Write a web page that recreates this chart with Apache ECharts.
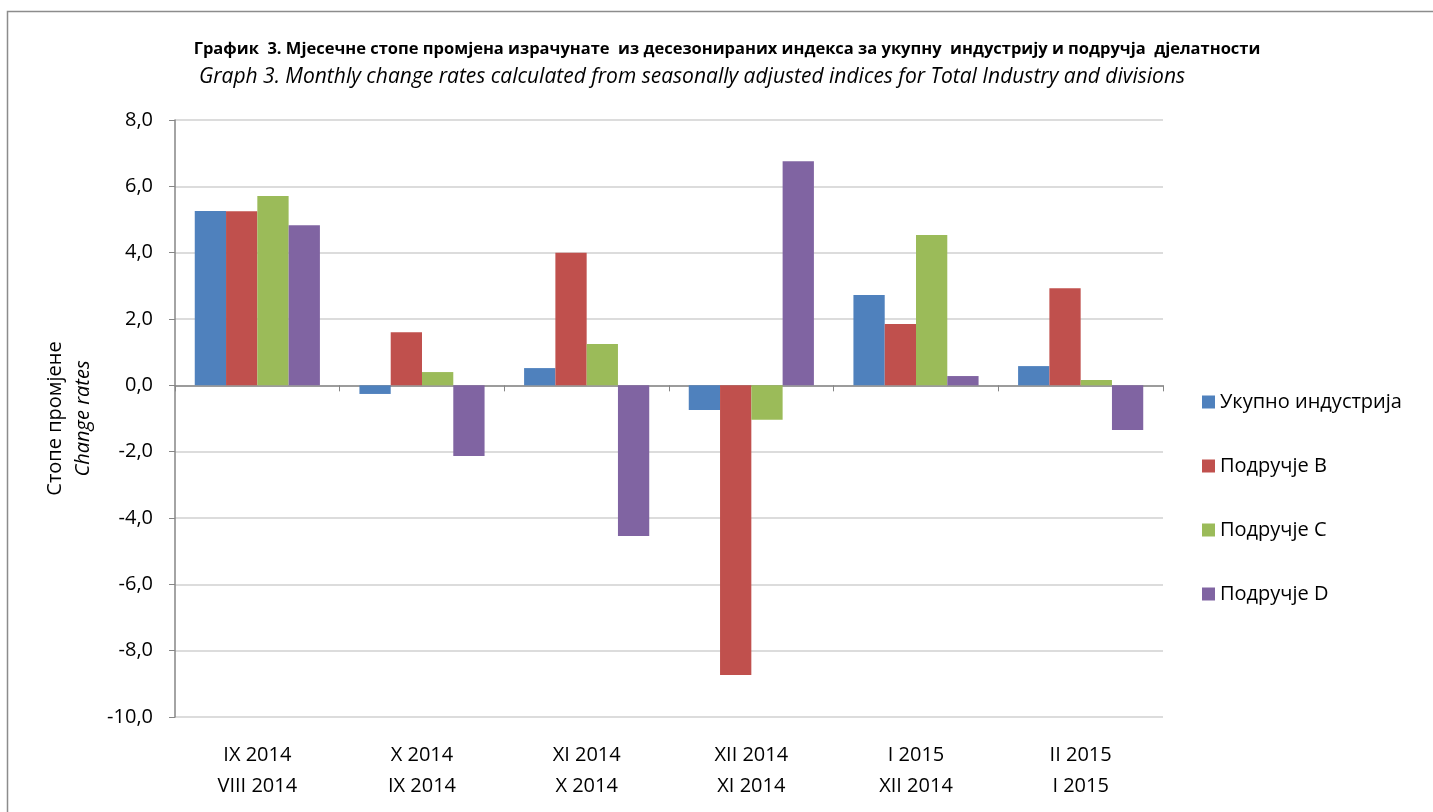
<!DOCTYPE html>
<html><head><meta charset="utf-8">
<script src="https://cdn.jsdelivr.net/npm/echarts@6/dist/echarts.min.js"></script>
<style>html,body{margin:0;padding:0;background:#fff}#c{width:1433px;height:812px}</style>
</head><body><div id="c"></div>
<script>
const categories = ['IX 2014\nVIII 2014','X 2014\nIX 2014','XI 2014\nX 2014','XII 2014\nXI 2014','I 2015\nXII 2014','II 2015\nI 2015'];
const seriesNames = ['Укупно индустрија','Подручје B','Подручје C','Подручје D'];
const totalIndustry = [5.26, -0.26, 0.52, -0.74, 2.72, 0.58];
const areaB = [5.25, 1.6, 4.0, -8.73, 1.85, 2.93];
const areaC = [5.71, 0.4, 1.25, -1.04, 4.53, 0.16];
const areaD = [4.83, -2.13, -4.54, 6.76, 0.28, -1.35];
const colors = ['#4F81BD','#C0504D','#9BBB59','#8064A2'];
const values = [totalIndustry, areaB, areaC, areaD];
const font = '"Open Sans", "DejaVu Sans", sans-serif';

const chart = echarts.init(document.getElementById('c'));
chart.setOption({
  animation: false,
  color: colors,
  graphic: [{
    type: 'rect', shape: {x: 7.5, y: 11.5, width: 1430, height: 820},
    style: {fill: 'none', stroke: '#8c8c8c', lineWidth: 1.5}, silent: true
  }],
  title: [{
    text: 'График  3. Мјесечне стопе промјена израчунате  из десезонираних индекса за укупну  индустрију и подручја  дјелатности',
    left: 722, top: 36, textAlign: 'center',
    textStyle: {fontFamily: font, fontSize: 16.5, fontWeight: 'bold', color: '#000'}
  },{
    text: 'Graph 3. Monthly change rates calculated from seasonally adjusted indices for Total Industry and divisions',
    left: 687, top: 62, textAlign: 'center',
    textStyle: {fontFamily: font, fontSize: 21, fontStyle: 'italic', fontWeight: 'normal', color: '#000'}
  }],
  legend: {
    orient: 'vertical', left: 1197, top: 387, itemGap: 44,
    itemWidth: 13, itemHeight: 13, icon: 'rect',
    textStyle: {fontFamily: font, fontSize: 20, color: '#000'},
    data: seriesNames
  },
  grid: {left: 175, right: 270, top: 120, bottom: 95, containLabel: false},
  xAxis: {
    type: 'category', data: categories,
    axisLine: {onZero: true, lineStyle: {color: '#868686', width: 1.5}},
    axisTick: {show: true, length: 6, lineStyle: {color: '#868686'}},
    axisLabel: {interval: 0, fontFamily: font, fontSize: 20, color: '#000', lineHeight: 31, margin: 23},
    position: 'bottom'
  },
  yAxis: {
    type: 'value', min: -10, max: 8, interval: 2,
    axisLine: {show: true, lineStyle: {color: '#868686', width: 1.5}},
    axisTick: {show: true, length: 6, inside: false, lineStyle: {color: '#868686'}},
    splitLine: {lineStyle: {color: '#d0d0d0', width: 1.5}},
    axisLabel: {fontFamily: font, fontSize: 20, color: '#000', margin: 22,
      formatter: v => v.toFixed(1).replace('.', ',')},
    name: '{a|Стопе промјене}\n{b|Change rates}',
    nameLocation: 'middle', nameRotate: 90, nameGap: 78,
    nameTextStyle: {rich: {
      a: {fontFamily: font, fontSize: 20, color: '#000', lineHeight: 28},
      b: {fontFamily: font, fontSize: 20, fontStyle: 'italic', color: '#000', lineHeight: 28}
    }}
  },
  series: values.map((d, i) => ({
    name: seriesNames[i], type: 'bar', data: d,
    barGap: '0%', barCategoryGap: '24%',
    itemStyle: {color: colors[i]}
  }))
});
</script></body></html>
